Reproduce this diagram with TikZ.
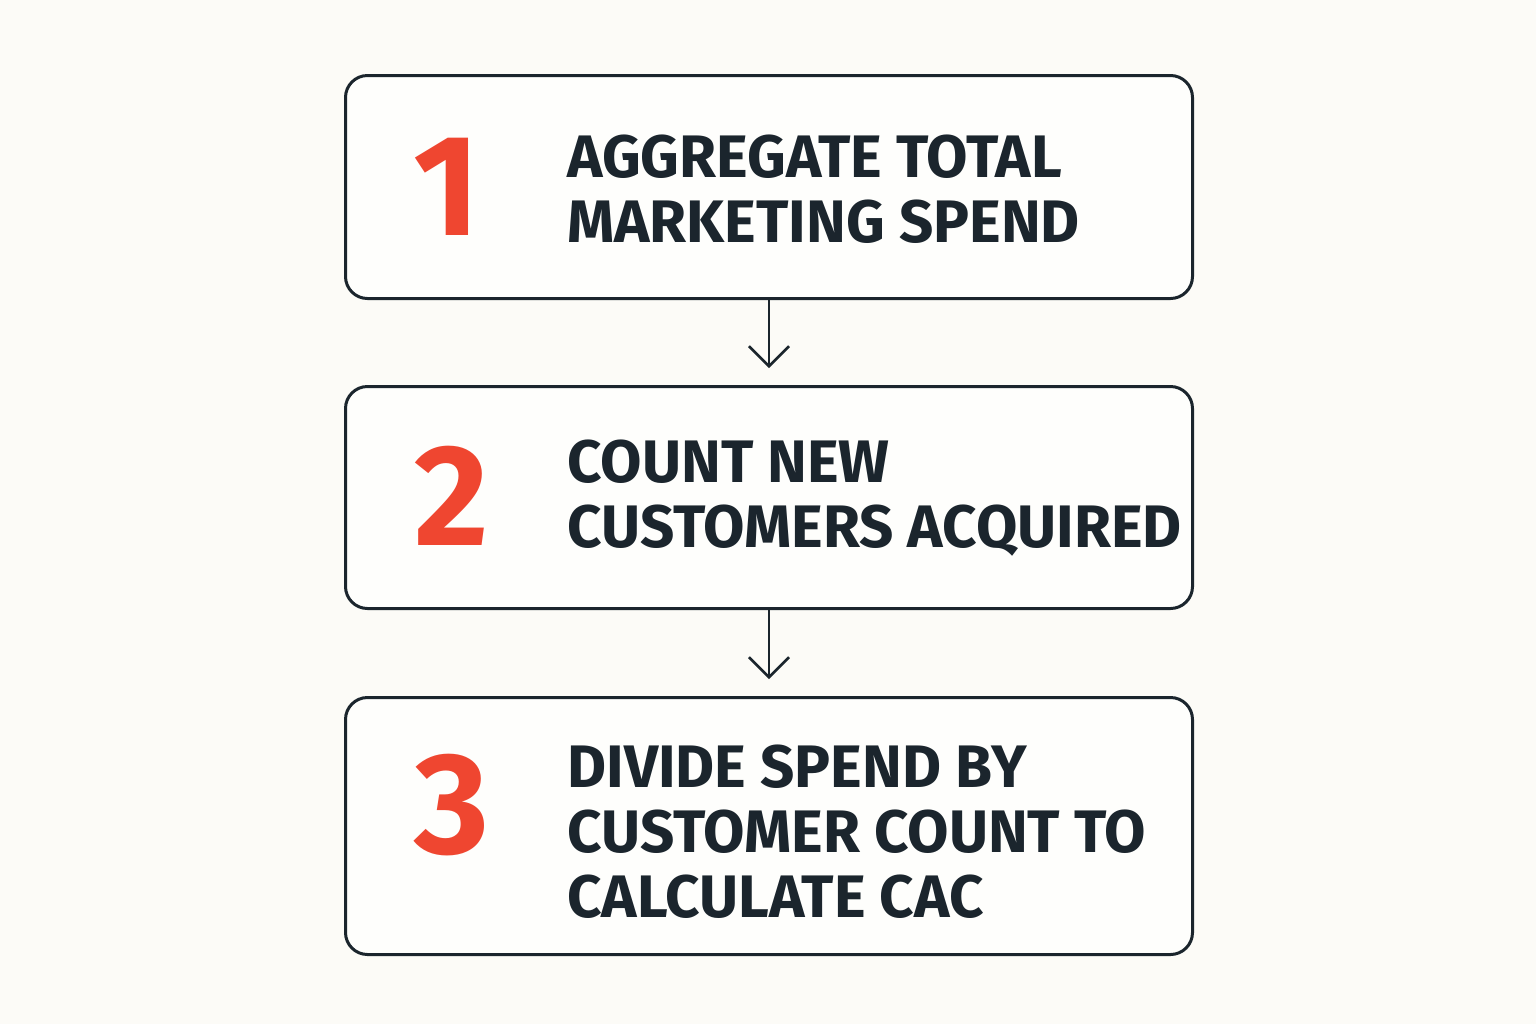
\documentclass[tikz,border=0pt]{standalone}
\usepackage{fontspec}
\setmainfont{Fira Sans}
\usetikzlibrary{positioning, calc, arrows.meta}
\definecolor{bgcream}{HTML}{FCFBF7}
\definecolor{boxfill}{HTML}{FEFEFC}
\definecolor{inkdark}{HTML}{1B252D}
\definecolor{stepred}{HTML}{EF4630}

\begin{document}
\begin{tikzpicture}[x=0.5pt, y=-0.5pt,
    stepbox/.style={rectangle,
      draw=inkdark,
      fill=boxfill,
      line width=1.5pt,
      rounded corners=11pt,
      minimum width=423.5pt,
      minimum height=#1,
      anchor=north west},
    stepnum/.style={text=stepred,
      font=\fontsize{72}{72}\selectfont\bfseries,
      inner sep=0pt},
    steptext/.style={text=inkdark,
      align=left,
      anchor=west,
      inner sep=0pt,
      font=\fontsize{30}{32.5}\selectfont\bfseries},
    flow/.style={draw=inkdark,
      line width=1.3pt,
      -{Straight Barb[length=10pt, width=20pt, line width=1.3pt]},
      shorten >=8.5pt}]

  \fill[bgcream] (0,0) rectangle (1536,1024);
  \useasboundingbox (0,0) rectangle (1536,1024);

  % STEPS

  \node[stepbox=111.5pt] (stepone) at (344,74) {};
  \node[stepbox=111pt] (steptwo) at (344,385) {};
  \node[stepbox=128.5pt] (stepthree) at (344,696) {};

  \node[stepnum] (numone) at (447,187) {1};
  \node[stepnum] (numtwo) at (452,496) {2};
  \node[stepnum] (numthree) at (452,805) {3};

  \node[steptext] (textone) at (567,189) {AGGREGATE TOTAL\\MARKETING SPEND};
  \node[steptext] (texttwo) at (567,498) {COUNT NEW\\CUSTOMERS ACQUIRED};
  \node[steptext] (textthree) at (567,832) {DIVIDE SPEND BY\\CUSTOMER COUNT TO\\CALCULATE CAC};

  % ARROWS

  \draw[flow] (stepone.south) -- (steptwo.north);
  \draw[flow] (steptwo.south) -- (stepthree.north);

\end{tikzpicture}
\end{document}
